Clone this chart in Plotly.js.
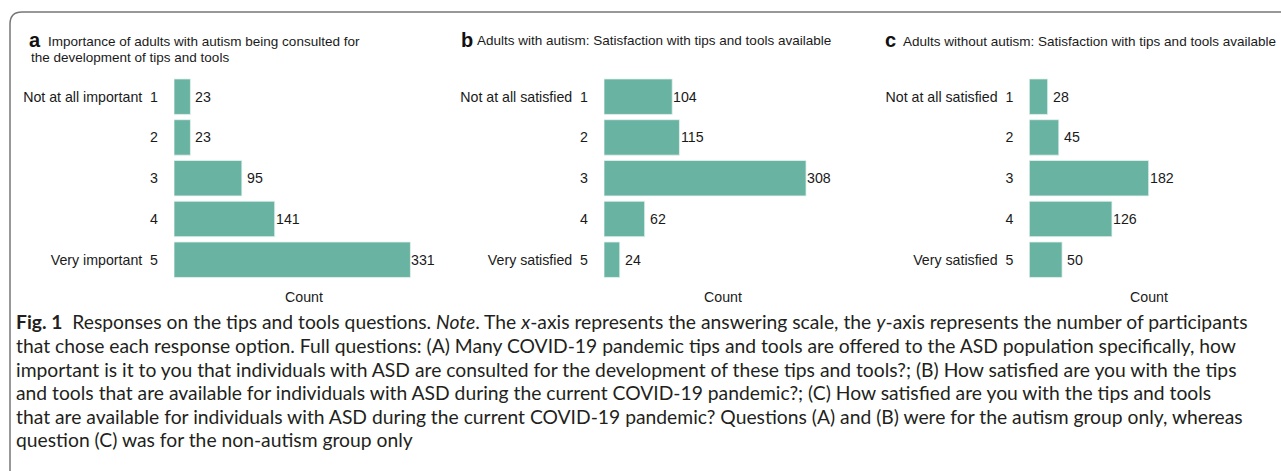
<!DOCTYPE html>
<html>
<head>
<meta charset="utf-8">
<script src="https://cdn.plot.ly/plotly-3.0.1.min.js"></script>
<style>html,body{margin:0;padding:0;background:#fff;}#chart{width:1281px;height:471px;}</style>
</head>
<body>
<div id="chart"></div>
<script>
// ---- data ----
const levels = ['1', '2', '3', '4', '5'];
const anchorsA = ['Not at all important', '', '', '', 'Very important'];
const anchorsBC = ['Not at all satisfied', '', '', '', 'Very satisfied'];
const countsA = [23, 23, 95, 141, 331];
const countsB = [104, 115, 308, 62, 24];
const countsC = [28, 45, 182, 126, 50];
const titleA1 = 'Importance of adults with autism being consulted for';
const titleA2 = 'the development of tips and tools';
const titleB = 'Adults with autism: Satisfaction with tips and tools available';
const titleC = 'Adults without autism: Satisfaction with tips and tools available';
const xTitle = 'Count';
const captionLines = [
  '<b>Fig. 1</b>\u00A0\u00A0Responses on the tips and tools questions. <i>Note</i>. The <i>x</i>-axis represents the answering scale, the <i>y</i>-axis represents the number of participants',
  'that chose each response option. Full questions: (A) Many COVID-19 pandemic tips and tools are offered to the ASD population specifically, how',
  'important is it to you that individuals with ASD are consulted for the development of these tips and tools?; (B) How satisfied are you with the tips',
  'and tools that are available for individuals with ASD during the current COVID-19 pandemic?; (C) How satisfied are you with the tips and tools',
  'that are available for individuals with ASD during the current COVID-19 pandemic? Questions (A) and (B) were for the autism group only, whereas',
  'question (C) was for the non-autism group only'
];

// ---- layout helpers ----
const W = 1281, H = 471;
const px = v => v / W;
const py = v => 1 - v / H;
const BAR = '#69b3a2';
const FONT = '"Liberation Sans", Arial, Helvetica, sans-serif';
const CAPFONT = 'Lato, "Noto Sans", sans-serif';
const TXT = '#1a1a1a';
const FS = 13.5;
const FST = 14.2;
const PAD = 3; // annotation inner padding compensation

const panels = [
  {counts: countsA, anchors: anchorsA, dom: [174, 434], ax: ''},
  {counts: countsB, anchors: anchorsBC, dom: [604, 842.8], ax: '2'},
  {counts: countsC, anchors: anchorsBC, dom: [1029.3, 1268.1], ax: '3'}
];

const data = [];
const layout = {
  width: W, height: H,
  margin: {l: 0, r: 0, t: 0, b: 0},
  paper_bgcolor: '#fff', plot_bgcolor: '#fff',
  showlegend: false,
  bargap: 0.13,
  annotations: [],
  shapes: []
};

panels.forEach(p => {
  const xa = 'x' + p.ax, ya = 'y' + p.ax;
  data.push({
    type: 'bar', orientation: 'h',
    x: p.counts, y: levels,
    xaxis: xa, yaxis: ya,
    marker: {color: BAR, line: {color: '#e6f2ef', width: 0.8}},
    hoverinfo: 'skip'
  });
  const tick = levels.map((l, i) => (p.anchors[i] ? p.anchors[i] + '\u00A0\u00A0' : '') + l);
  layout['xaxis' + p.ax] = {
    domain: [px(p.dom[0]), px(p.dom[1])],
    anchor: ya, range: [0, 364],
    showgrid: false, zeroline: false, showline: false,
    showticklabels: false, ticks: '', fixedrange: true
  };
  layout['yaxis' + p.ax] = {
    domain: [py(280.1), py(76.3)],
    anchor: xa, type: 'category',
    categoryorder: 'array', categoryarray: levels,
    range: [levels.length - 0.5, -0.5],
    tickvals: levels, ticktext: tick,
    showgrid: false, zeroline: false, showline: false,
    ticks: '', ticklabelstandoff: 15,
    tickfont: {family: FONT, size: FST, color: TXT}, fixedrange: true
  };
  p.counts.forEach((v, i) => {
    layout.annotations.push({
      xref: xa, yref: ya, x: v, y: i, xshift: 13,
      xanchor: 'center', yanchor: 'middle', showarrow: false,
      text: String(v), font: {family: FONT, size: FST, color: TXT}
    });
  });
  layout.annotations.push({
    xref: xa + ' domain', yref: 'paper', x: 0.5, y: py(296.7),
    xanchor: 'center', yanchor: 'middle', showarrow: false,
    text: xTitle, font: {family: FONT, size: FST, color: TXT}
  });
});

// panel titles: bold letter + text
const titleDefs = [
  {lx: 30, tx: 48.5, y: 41.5, letter: 'a', text: titleA1},
  {lx: 462, tx: 477.7, y: 40.7, letter: 'b', text: titleB},
  {lx: 886, tx: 904, y: 41.3, letter: 'c', text: titleC}
];
titleDefs.forEach(t => {
  layout.annotations.push({
    xref: 'paper', yref: 'paper', x: px(t.lx - PAD), y: py(t.y - 1),
    xanchor: 'left', yanchor: 'middle', showarrow: false,
    text: '<b>' + t.letter + '</b>',
    font: {family: FONT, size: 20, color: '#111'}
  });
  layout.annotations.push({
    xref: 'paper', yref: 'paper', x: px(t.tx - PAD), y: py(t.y),
    xanchor: 'left', yanchor: 'middle', showarrow: false,
    text: t.text,
    font: {family: FONT, size: FS, color: TXT}
  });
});
layout.annotations.push({
  xref: 'paper', yref: 'paper', x: px(32 - PAD), y: py(57.3),
  xanchor: 'left', yanchor: 'middle', showarrow: false,
  text: titleA2, font: {family: FONT, size: FS, color: TXT}
});

// caption
const capY = [321.5, 345.5, 369, 392.5, 416, 439.5];
captionLines.forEach((line, i) => {
  layout.annotations.push({
    xref: 'paper', yref: 'paper', x: px(13.5), y: py(capY[i]),
    xanchor: 'left', yanchor: 'middle', showarrow: false,
    text: line, font: {family: CAPFONT, size: 19.3, color: '#231f20'}
  });
});

// rounded frame
const r = 12;
layout.shapes.push({
  type: 'path', xref: 'paper', yref: 'paper',
  path: 'M ' + px(10) + ',' + py(480) + ' L ' + px(10) + ',' + py(12 + r) +
        ' Q ' + px(10) + ',' + py(12) + ' ' + px(10 + r) + ',' + py(12) +
        ' L ' + px(1290) + ',' + py(12),
  line: {color: '#777777', width: 1.5}
});

Plotly.newPlot('chart', data, layout, {displayModeBar: false, staticPlot: true});
</script>
</body>
</html>
